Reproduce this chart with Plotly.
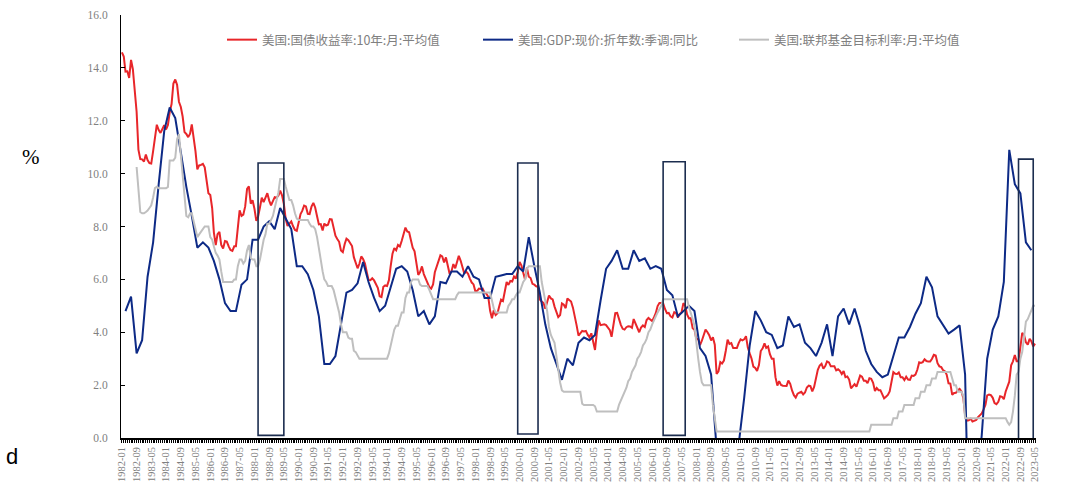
import pandas as pd
import plotly.graph_objects as go

# ---------------- data ----------------
month_start = "1982-01"
month_end = "2023-05"

# US 10Y treasury yield, monthly average (1982-01 .. 2023-05)
treasury_10y = [
    14.59, 14.43, 13.86, 13.87, 13.62, 14.30, 13.95, 13.06, 12.34, 10.91, 10.55, 10.54,
    10.46, 10.72, 10.51, 10.40, 10.38, 10.85, 11.38, 11.85, 11.65, 11.54, 11.69, 11.83,
    11.67, 11.84, 12.32, 12.63, 13.41, 13.56, 13.36, 12.72, 12.52, 12.16, 11.57, 11.50,
    11.38, 11.51, 11.86, 11.43, 10.85, 10.16, 10.31, 10.33, 10.37, 10.24, 9.78, 9.26,
    9.19, 8.70, 7.78, 7.30, 7.71, 7.80, 7.30, 7.17, 7.45, 7.43, 7.25, 7.11,
    7.08, 7.25, 7.25, 8.02, 8.61, 8.40, 8.45, 8.76, 9.42, 9.52, 8.86, 8.99,
    8.67, 8.21, 8.37, 8.72, 9.09, 8.92, 9.06, 9.26, 8.98, 8.80, 8.96, 9.11,
    9.09, 9.17, 9.36, 9.18, 8.86, 8.28, 8.02, 8.11, 8.19, 8.01, 7.87, 7.84,
    8.21, 8.47, 8.59, 8.79, 8.76, 8.48, 8.47, 8.75, 8.89, 8.72, 8.39, 8.08,
    8.09, 7.85, 8.11, 8.04, 8.07, 8.28, 8.27, 7.90, 7.65, 7.53, 7.42, 7.09,
    7.03, 7.34, 7.54, 7.48, 7.39, 7.26, 6.84, 6.59, 6.42, 6.59, 6.87, 6.77,
    6.60, 6.26, 5.98, 5.97, 6.04, 5.96, 5.81, 5.68, 5.36, 5.33, 5.72, 5.77,
    5.75, 5.97, 6.48, 6.97, 7.18, 7.10, 7.30, 7.24, 7.46, 7.74, 7.96, 7.81,
    7.78, 7.47, 7.20, 7.06, 6.63, 6.17, 6.28, 6.49, 6.20, 6.04, 5.93, 5.71,
    5.65, 5.81, 6.27, 6.51, 6.74, 6.91, 6.87, 6.64, 6.83, 6.53, 6.20, 6.30,
    6.58, 6.42, 6.69, 6.89, 6.71, 6.49, 6.22, 6.30, 6.21, 6.03, 5.88, 5.81,
    5.54, 5.57, 5.65, 5.64, 5.65, 5.50, 5.46, 5.34, 4.81, 4.53, 4.83, 4.65,
    4.72, 5.00, 5.23, 5.18, 5.54, 5.90, 5.79, 5.94, 5.92, 6.11, 6.03, 6.28,
    6.66, 6.52, 6.26, 5.99, 6.44, 6.10, 6.05, 5.83, 5.80, 5.74, 5.72, 5.24,
    5.16, 5.10, 4.89, 5.14, 5.39, 5.28, 5.24, 4.97, 4.73, 4.57, 4.65, 5.09,
    5.04, 4.91, 5.28, 5.21, 5.16, 4.93, 4.65, 4.26, 3.87, 3.94, 4.05, 4.03,
    4.05, 3.90, 3.81, 3.96, 3.57, 3.33, 3.98, 4.45, 4.27, 4.29, 4.30, 4.27,
    4.15, 4.08, 3.83, 4.35, 4.72, 4.73, 4.50, 4.28, 4.13, 4.10, 4.19, 4.23,
    4.22, 4.17, 4.50, 4.34, 4.14, 4.00, 4.18, 4.26, 4.20, 4.46, 4.54, 4.47,
    4.42, 4.57, 4.72, 4.99, 5.11, 5.11, 5.09, 4.88, 4.72, 4.73, 4.60, 4.56,
    4.76, 4.72, 4.56, 4.69, 4.75, 5.10, 5.00, 4.67, 4.52, 4.53, 4.15, 4.10,
    3.74, 3.74, 3.51, 3.68, 3.88, 4.10, 4.01, 3.89, 3.69, 3.81, 3.53, 2.42,
    2.52, 2.87, 2.82, 2.93, 3.29, 3.72, 3.56, 3.59, 3.40, 3.39, 3.40, 3.59,
    3.73, 3.69, 3.73, 3.85, 3.42, 3.20, 3.01, 2.70, 2.65, 2.54, 2.76, 3.29,
    3.39, 3.58, 3.41, 3.46, 3.17, 3.00, 3.00, 2.30, 1.98, 2.15, 2.01, 1.98,
    1.97, 1.97, 2.17, 2.05, 1.80, 1.62, 1.53, 1.68, 1.72, 1.75, 1.65, 1.72,
    1.91, 1.98, 1.96, 1.76, 1.93, 2.30, 2.58, 2.74, 2.81, 2.62, 2.72, 2.90,
    2.86, 2.71, 2.72, 2.71, 2.56, 2.60, 2.54, 2.42, 2.53, 2.30, 2.33, 2.21,
    1.88, 1.98, 2.04, 1.94, 2.20, 2.36, 2.32, 2.17, 2.17, 2.07, 2.26, 2.24,
    2.09, 1.78, 1.89, 1.81, 1.81, 1.64, 1.50, 1.56, 1.63, 1.76, 2.14, 2.49,
    2.43, 2.42, 2.48, 2.30, 2.30, 2.19, 2.32, 2.21, 2.20, 2.36, 2.35, 2.40,
    2.58, 2.86, 2.84, 2.87, 2.98, 2.91, 2.89, 2.89, 3.00, 3.15, 3.12, 2.83,
    2.71, 2.68, 2.57, 2.53, 2.40, 2.07, 2.06, 1.63, 1.70, 1.71, 1.81, 1.86,
    1.76, 1.50, 0.87, 0.66, 0.67, 0.73, 0.62, 0.65, 0.68, 0.79, 0.87, 0.93,
    1.08, 1.26, 1.61, 1.64, 1.62, 1.52, 1.32, 1.28, 1.37, 1.58, 1.56, 1.47,
    1.76, 1.93, 2.13, 2.75, 2.90, 3.14, 2.90, 2.90, 3.52, 3.98, 3.89, 3.62,
    3.53, 3.75, 3.66, 3.46, 3.57,
]

# US nominal GDP, SAAR, YoY (quarterly, 1982Q1 .. 2023Q1)
gdp_start = "1982Q1"
gdp_yoy = [
    4.8, 5.35, 3.2, 3.7,
    6.1, 7.4, 9.6, 11.6,
    12.5, 12.1, 10.8, 9.5,
    8.4, 7.2, 7.4, 7.2,
    6.7, 6.0, 5.1, 4.8,
    4.8, 5.8, 6.0, 7.5,
    7.5, 8.0, 8.2, 7.9,
    8.7, 8.3, 7.9, 6.5,
    6.5, 6.2, 5.6, 4.6,
    2.8, 2.8, 3.1, 4.3,
    5.5, 5.6, 5.85, 6.66,
    5.9, 5.3, 4.8, 5.0,
    5.7, 6.4, 6.5, 6.3,
    5.6, 4.6, 4.8, 4.3,
    4.6, 5.9, 5.85, 6.3,
    6.3, 6.1, 6.5, 6.1,
    6.0, 5.3, 5.3, 6.1,
    6.15, 6.2, 6.2, 6.5,
    6.3, 7.6, 6.5, 5.5,
    4.3, 3.4, 2.8, 2.2,
    3.0, 2.75, 3.6, 3.8,
    3.7, 3.9, 5.2, 6.4,
    6.7, 7.1, 6.4, 6.4,
    7.1, 6.7, 6.8, 6.4,
    6.5, 6.4, 5.6, 5.4,
    4.6, 4.8, 5.0, 4.8,
    3.4, 3.1, 2.4, -0.4,
    -1.5, -2.5, -2.0, -0.3,
    1.5, 3.5, 4.8, 4.45,
    4.0, 3.9, 3.4, 3.5,
    4.6, 4.2, 4.3, 3.6,
    3.4, 3.1, 3.6, 4.3,
    3.1, 4.6, 4.9, 4.3,
    4.9, 4.2, 3.3, 2.8,
    2.5, 2.3, 2.4, 3.1,
    3.8, 3.8, 4.2, 4.7,
    5.1, 6.1, 5.7, 4.6,
    4.3, 3.95, 4.1, 4.26,
    2.4, -7.0, -2.0, 0.1,
    3.0, 4.1, 4.6, 5.9,
    10.9, 9.6, 9.25, 7.4,
    7.1,
]

# US fed funds target rate, monthly average (1982-09 .. 2023-05)
fed_start = "1982-09"
fed_target = [
    10.25, 9.4, 8.55, 8.5,
    8.5, 8.55, 8.6, 8.7, 8.8, 9.1, 9.45, 9.5, 9.45, 9.45, 9.45, 9.45,
    9.45, 9.5, 10.5, 10.5, 10.5, 10.6, 11.3, 11.5, 10.7, 9.8, 8.9, 8.4,
    8.35, 8.5, 8.5, 8.2, 7.9, 7.6, 7.7, 7.8, 7.9, 8.0, 8.0, 8.0,
    7.6, 7.5, 7.25, 7.0, 6.9, 6.75, 6.3, 5.9, 5.9, 5.9, 5.9, 5.9,
    5.9, 6.0, 6.0, 6.5, 6.75, 6.75, 6.6, 6.7, 7.1, 7.3, 6.8, 6.75,
    6.75, 6.5, 6.5, 6.75, 7.1, 7.5, 7.7, 8.1, 8.1, 8.25, 8.4, 8.7,
    9.0, 9.3, 9.8, 9.8, 9.8, 9.5, 9.25, 9.0, 9.0, 8.8, 8.5, 8.3,
    8.25, 8.25, 8.25, 8.25, 8.25, 8.25, 8.1, 8.0, 8.0, 7.9, 7.6, 7.25,
    6.75, 6.3, 6.0, 5.9, 5.75, 5.75, 5.75, 5.6, 5.3, 5.1, 4.75, 4.3,
    4.0, 4.0, 4.0, 3.8, 3.75, 3.75, 3.3, 3.25, 3.1, 3.0, 3.0, 3.0,
    3.0, 3.0, 3.0, 3.0, 3.0, 3.0, 3.0, 3.0, 3.0, 3.0, 3.0, 3.0,
    3.0, 3.2, 3.5, 3.7, 4.1, 4.25, 4.25, 4.5, 4.75, 4.75, 5.3, 5.5,
    5.5, 5.9, 6.0, 6.0, 6.0, 6.0, 5.8, 5.75, 5.75, 5.75, 5.75, 5.6,
    5.4, 5.25, 5.25, 5.25, 5.25, 5.25, 5.25, 5.25, 5.25, 5.25, 5.25, 5.25,
    5.25, 5.25, 5.4, 5.5, 5.5, 5.5, 5.5, 5.5, 5.5, 5.5, 5.5, 5.5,
    5.5, 5.5, 5.5, 5.5, 5.5, 5.5, 5.5, 5.5, 5.5, 5.2, 4.9, 4.75,
    4.75, 4.75, 4.75, 4.75, 4.75, 4.75, 5.0, 5.1, 5.25, 5.25, 5.4, 5.5,
    5.5, 5.7, 5.9, 6.0, 6.4, 6.5, 6.5, 6.5, 6.5, 6.5, 6.5, 6.5,
    5.9, 5.5, 5.2, 4.8, 4.2, 3.9, 3.75, 3.6, 3.1, 2.5, 2.1, 1.8,
    1.75, 1.75, 1.75, 1.75, 1.75, 1.75, 1.75, 1.75, 1.75, 1.75, 1.3, 1.25,
    1.25, 1.25, 1.25, 1.25, 1.25, 1.2, 1.0, 1.0, 1.0, 1.0, 1.0, 1.0,
    1.0, 1.0, 1.0, 1.0, 1.0, 1.0, 1.25, 1.4, 1.6, 1.75, 1.9, 2.15,
    2.25, 2.5, 2.6, 2.75, 3.0, 3.1, 3.25, 3.5, 3.6, 3.75, 4.0, 4.1,
    4.3, 4.5, 4.6, 4.75, 4.9, 5.0, 5.25, 5.25, 5.25, 5.25, 5.25, 5.25,
    5.25, 5.25, 5.25, 5.25, 5.25, 5.25, 5.25, 5.25, 4.95, 4.75, 4.5, 4.25,
    3.5, 3.0, 2.5, 2.1, 2.0, 2.0, 2.0, 2.0, 2.0, 1.25, 0.75, 0.25,
    0.25, 0.25, 0.25, 0.25, 0.25, 0.25, 0.25, 0.25, 0.25, 0.25, 0.25, 0.25,
    0.25, 0.25, 0.25, 0.25, 0.25, 0.25, 0.25, 0.25, 0.25, 0.25, 0.25, 0.25,
    0.25, 0.25, 0.25, 0.25, 0.25, 0.25, 0.25, 0.25, 0.25, 0.25, 0.25, 0.25,
    0.25, 0.25, 0.25, 0.25, 0.25, 0.25, 0.25, 0.25, 0.25, 0.25, 0.25, 0.25,
    0.25, 0.25, 0.25, 0.25, 0.25, 0.25, 0.25, 0.25, 0.25, 0.25, 0.25, 0.25,
    0.25, 0.25, 0.25, 0.25, 0.25, 0.25, 0.25, 0.25, 0.25, 0.25, 0.25, 0.25,
    0.25, 0.25, 0.25, 0.25, 0.25, 0.25, 0.25, 0.25, 0.25, 0.25, 0.25, 0.5,
    0.5, 0.5, 0.5, 0.5, 0.5, 0.5, 0.5, 0.5, 0.5, 0.5, 0.5, 0.75,
    0.75, 0.75, 1.0, 1.0, 1.0, 1.25, 1.25, 1.25, 1.25, 1.25, 1.25, 1.5,
    1.5, 1.5, 1.75, 1.75, 1.75, 2.0, 2.0, 2.0, 2.25, 2.25, 2.25, 2.5,
    2.5, 2.5, 2.5, 2.5, 2.5, 2.5, 2.5, 2.25, 2.0, 2.0, 1.75, 1.75,
    1.75, 1.6, 0.75, 0.75, 0.75, 0.75, 0.75, 0.75, 0.75, 0.75, 0.75, 0.75,
    0.75, 0.75, 0.75, 0.75, 0.75, 0.75, 0.75, 0.75, 0.75, 0.75, 0.75, 0.75,
    0.75, 0.6, 0.5, 0.6, 1.0, 1.6, 2.4, 2.5, 3.0, 3.25, 3.9, 4.4,
    4.5, 4.7, 4.85, 5.0, 5.0,
]

# highlighted periods (boxes drawn on the chart)
box_start = ["1988-03", "1999-12", "2006-07", "2022-08"]
box_end = ["1989-05", "2000-11", "2007-07", "2023-04"]
box_top = [10.4, 10.4, 10.45, 10.55]
box_bottom = [0.1, 0.15, 0.1, -0.12]

names = [
    "美国:国债收益率:10年:月:平均值",
    "美国:GDP:现价:折年数:季调:同比",
    "美国:联邦基金目标利率:月:平均值",
]
colors = ["#E8262A", "#0D2A86", "#BFBFBF"]

# ---------------- build ----------------
months = pd.period_range(month_start, month_end, freq="M").to_timestamp()
gdp_x = pd.period_range(gdp_start, periods=len(gdp_yoy), freq="Q").asfreq("M", "end").to_timestamp()
fed_x = pd.period_range(fed_start, periods=len(fed_target), freq="M").to_timestamp()

fig = go.Figure()
fig.add_trace(go.Scatter(x=months[:len(treasury_10y)], y=treasury_10y, mode="lines",
                         name=names[0], line=dict(color=colors[0], width=2)))
fig.add_trace(go.Scatter(x=gdp_x, y=gdp_yoy, mode="lines",
                         name=names[1], line=dict(color=colors[1], width=2)))
fig.add_trace(go.Scatter(x=fed_x, y=fed_target, mode="lines",
                         name=names[2], line=dict(color=colors[2], width=2)))

for s, e, t, b in zip(box_start, box_end, box_top, box_bottom):
    fig.add_shape(type="rect", xref="x", yref="y",
                  x0=pd.Period(s, "M").to_timestamp(), x1=pd.Period(e, "M").to_timestamp(),
                  y0=b, y1=t, line=dict(color="#1C2D4F", width=1.6), layer="above")

serif = "Liberation Serif, Times New Roman, serif"
x_lo = months[0] - pd.Timedelta(days=15)
x_hi = months[-1] + pd.Timedelta(days=16)

fig.update_layout(
    width=1070, height=486,
    margin=dict(l=121, r=34, t=15, b=48),
    paper_bgcolor="white", plot_bgcolor="white",
    showlegend=True,
    legend=dict(orientation="h", x=(222 - 121) / 915, xanchor="left",
                y=(437.5 - 40) / 422.5, yanchor="middle",
                font=dict(family="Noto Sans CJK SC", size=12.5, color="#808080"),
                entrywidth=211, entrywidthmode="pixels", bgcolor="rgba(0,0,0,0)",
                borderwidth=0, itemclick=False),
    xaxis=dict(
        type="date", range=[x_lo, x_hi], automargin=False,
        tickmode="linear", tick0=months[0], dtick="M8", tickformat="%Y-%m",
        tickangle=-90, ticks="outside", ticklen=3, tickcolor="black",
        tickfont=dict(family=serif, size=10.5, color="#808080"),
        showline=True, linecolor="black", linewidth=1.5, showgrid=False, zeroline=False,
        minor=dict(ticks="outside", ticklen=3, dtick="M1", tick0=months[0], tickcolor="black", showgrid=False),
    ),
    yaxis=dict(
        range=[0, 16], tickmode="linear", tick0=0, dtick=2, tickformat=".1f", automargin=False,
        ticks="inside", ticklen=4, tickcolor="black", ticklabelstandoff=10,
        tickfont=dict(family=serif, size=11.5, color="#808080"),
        showline=True, linecolor="black", linewidth=1, showgrid=False, zeroline=False,
    ),
    annotations=[
        dict(text="%", xref="paper", yref="paper", x=(20 - 121) / 915, y=(437.5 - 157) / 422.5,
             showarrow=False, font=dict(family=serif, size=21, color="black")),
        dict(text="d", xref="paper", yref="paper", x=(4 - 121) / 915, y=(437.5 - 470) / 422.5,
             showarrow=False, font=dict(family="Liberation Sans, Arial", size=22, color="black")),
    ],
)

fig.write_html("out.html", config={"displayModeBar": False},
               post_script="document.body.style.margin='0px';")
